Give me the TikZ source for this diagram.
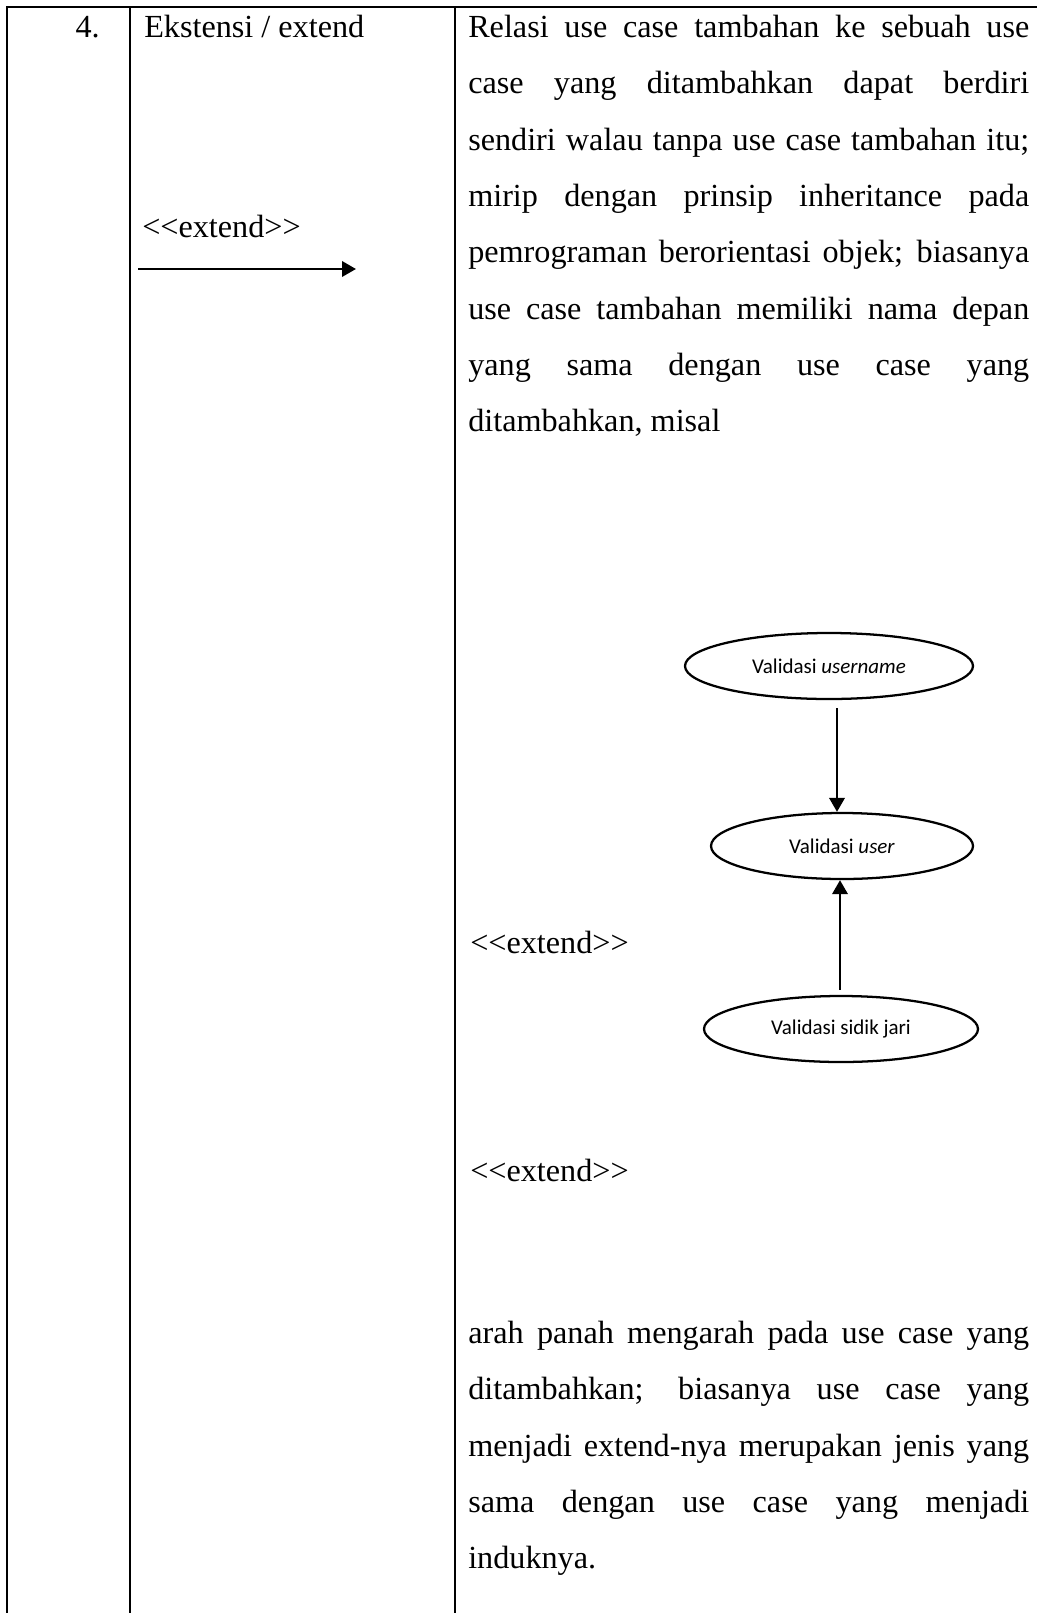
\documentclass[tikz,border=0pt]{standalone}
\usepackage{fontspec}
\setmainfont{Liberation Serif}
\newfontfamily\ucfont{Carlito}
\usetikzlibrary{arrows.meta,shapes.geometric}
% one fully justified line of the description column
\newcommand{\jline}[1]{\makebox[420.75pt][s]{#1}}
\begin{document}
\begin{tikzpicture}[x=0.75pt,y=-0.75pt,
  rule/.style={line width=1.5pt},
  body/.style={inner sep=0pt, anchor=base west, font=\fontsize{24.15}{28}\selectfont},
  usecase/.style={draw, ellipse, line width=1.7pt, inner sep=0pt,
    minimum height=49.5pt, font=\ucfont\fontsize{15.75}{18}\selectfont},
  rel/.style={line width=1.9pt, -{Triangle[length=10.5pt,width=11.5pt]}}]
\useasboundingbox (0,0) rectangle (1037,1613);

% table grid (continues past the right and bottom edges)
\coordinate (tl) at (7,7);
\coordinate (tr) at (1037,7);
\coordinate (bl) at (7,1613);
\coordinate (c1t) at (130,7);
\coordinate (c1b) at (130,1613);
\coordinate (c2t) at (455,7);
\coordinate (c2b) at (455,1613);
\draw[rule] (tr) -- (tl) -- (bl);
\draw[rule] (c1t) -- (c1b);
\draw[rule] (c2t) -- (c2b);

% first two columns
\node[body, anchor=base east] (num) at (100,37) {4.};
\node[body] (name) at (144,37) {Ekstensi / extend};
\node[body] (lbl) at (142,237) {<{}<extend>{}>};
\coordinate (la) at (138,269);
\coordinate (lb) at (356,269);
\draw[rel] (la) -- (lb);

% description column
\node[body] (p1) at (468,37)  {\jline{Relasi use case tambahan ke sebuah use}};
\node[body] (p2) at (468,93)  {\jline{case yang ditambahkan dapat berdiri}};
\node[body] (p3) at (468,150) {\jline{sendiri walau tanpa use case tambahan itu;}};
\node[body] (p4) at (468,206) {\jline{mirip dengan prinsip inheritance pada}};
\node[body] (p5) at (468,262) {\jline{pemrograman berorientasi objek; biasanya}};
\node[body] (p6) at (468,319) {\jline{use case tambahan memiliki nama depan}};
\node[body] (p7) at (468,375) {\jline{yang sama dengan use case yang}};
\node[body] (p8) at (468,431) {ditambahkan, misal};

% example use case diagram
\node[usecase, minimum width=216pt]   (un) at (829,666)  {Validasi \textit{username}};
\node[usecase, minimum width=196.5pt] (us) at (842,846)  {Validasi \textit{user}};
\node[usecase, minimum width=205.5pt] (sj) at (841,1029) {Validasi sidik jari};
\coordinate (a1) at (837,0);
\coordinate (a2) at (840,0);
\draw[rel, shorten <=6pt] (un.south -| a1) -- (us.north -| a1);
\draw[rel, shorten <=4pt] (sj.north -| a2) -- (us.south -| a2);

\node[body] (x1) at (470,953)  {<{}<extend>{}>};
\node[body] (x2) at (470,1181) {<{}<extend>{}>};

\node[body] (q1) at (468,1343) {\jline{arah panah mengarah pada use case yang}};
\node[body] (q2) at (468,1399) {\jline{ditambahkan; biasanya use case yang}};
\node[body] (q3) at (468,1456) {\jline{menjadi extend-nya merupakan jenis yang}};
\node[body] (q4) at (468,1512) {\jline{sama dengan use case yang menjadi}};
\node[body] (q5) at (468,1568) {induknya.};
\end{tikzpicture}
\end{document}
